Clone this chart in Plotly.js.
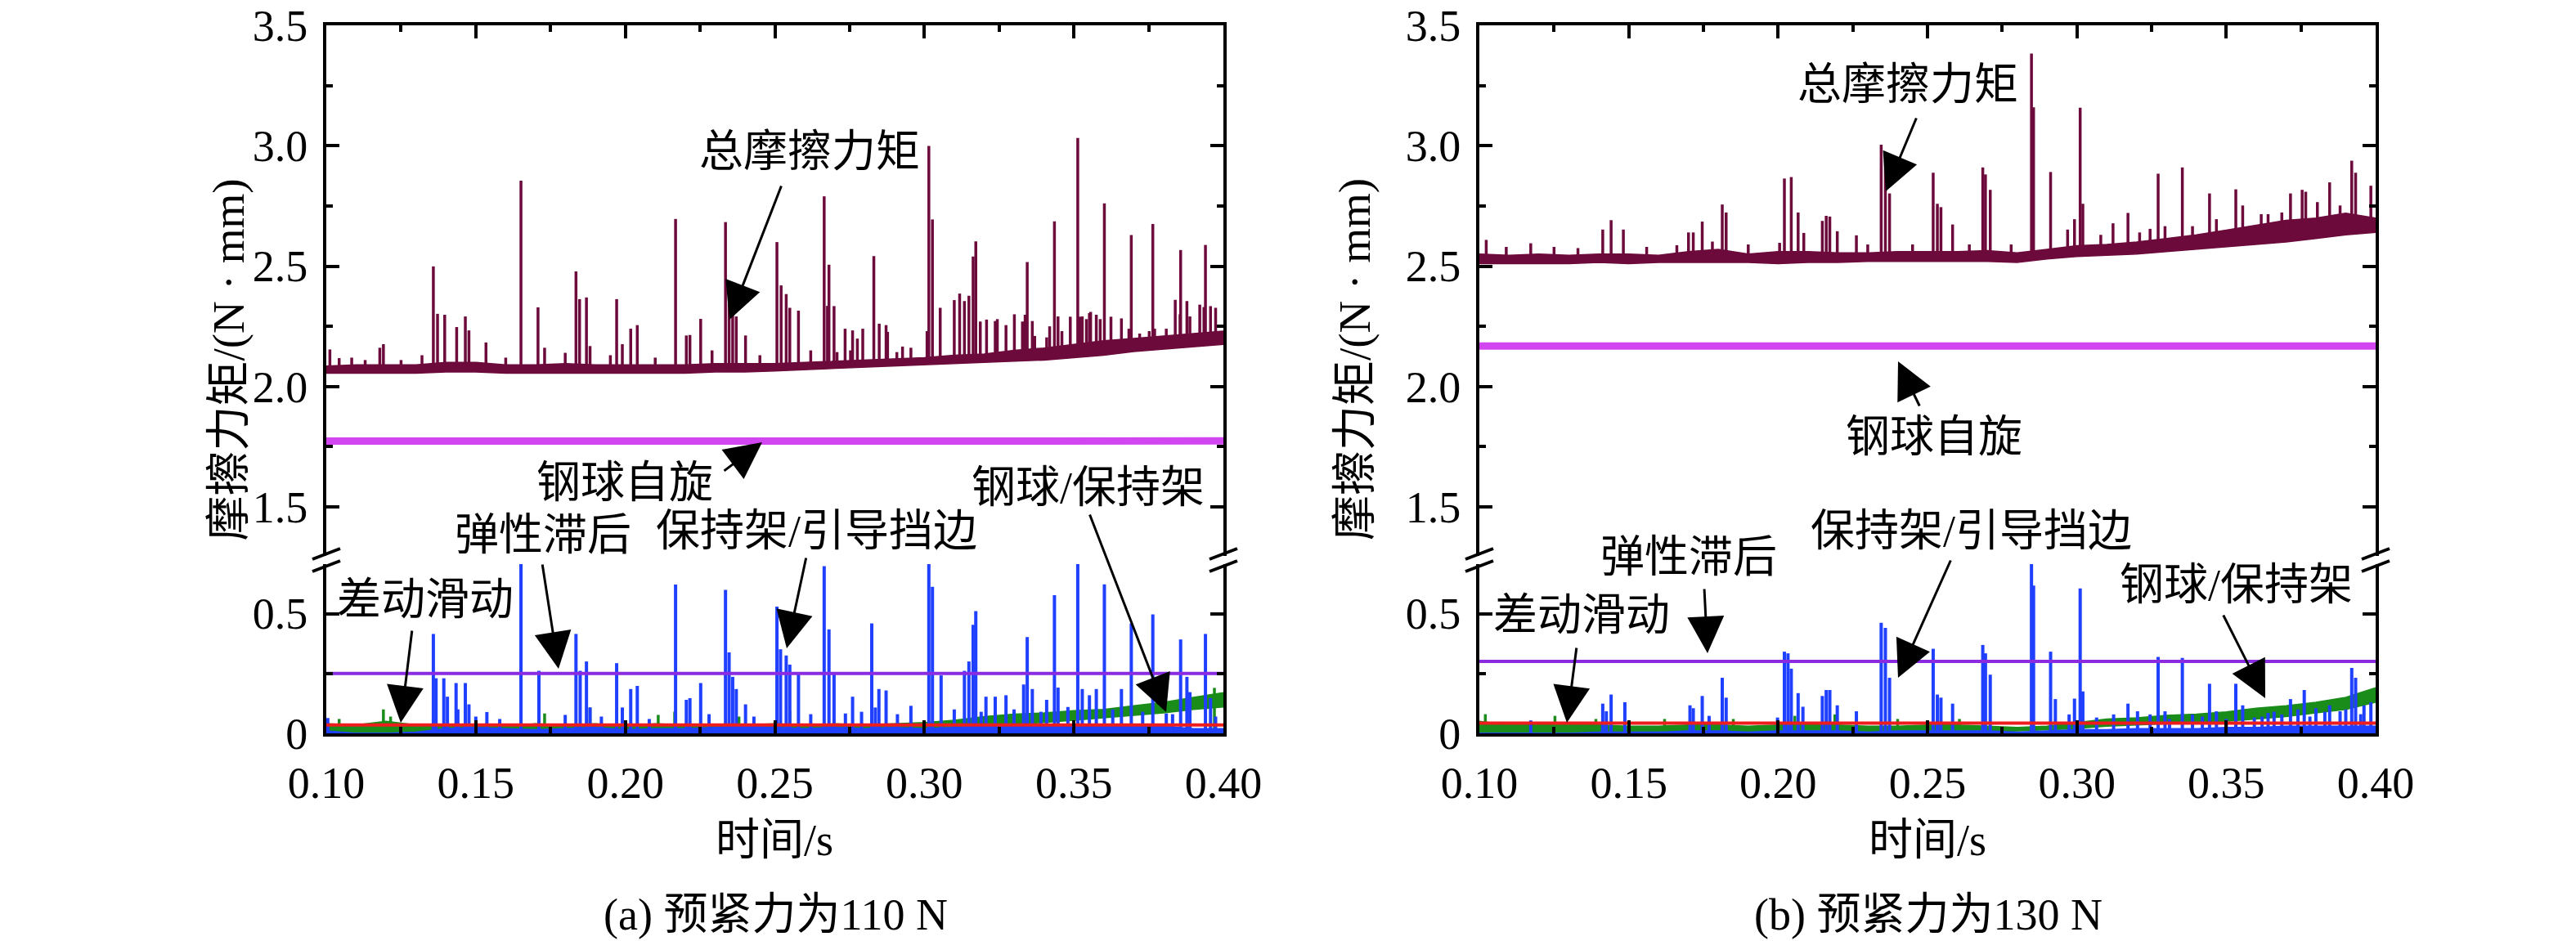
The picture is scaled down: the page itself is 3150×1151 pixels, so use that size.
<!DOCTYPE html>
<html>
<head>
<meta charset="utf-8">
<script src="https://cdn.plot.ly/plotly-3.0.1.min.js"></script>
<style>
  html, body { margin: 0; padding: 0; background: #fff; }
  #chart { width: 3150px; height: 1151px; }
</style>
</head>
<body>
<div id="chart"></div>
<script>
// shared time grid (s) for the noise envelopes
var t_grid = [0.10,0.11,0.12,0.13,0.14,0.15,0.16,0.17,0.18,0.19,0.20,0.21,0.22,0.23,0.24,0.25,
              0.26,0.27,0.28,0.29,0.30,0.31,0.32,0.33,0.34,0.35,0.36,0.37,0.38,0.39,0.40];
var t_ends = [0.10, 0.20, 0.30, 0.40];

// ---- (a) preload 110 N ----
var a_total_lo = [2.055,2.055,2.055,2.055,2.06,2.06,2.055,2.055,2.055,2.055,2.055,2.055,2.055,2.06,2.06,2.065,
                  2.07,2.073,2.078,2.085,2.09,2.095,2.10,2.105,2.11,2.12,2.13,2.145,2.155,2.165,2.175];
var a_total_hi = [2.085,2.09,2.09,2.09,2.10,2.10,2.09,2.09,2.095,2.09,2.09,2.09,2.09,2.095,2.095,2.095,
                  2.10,2.105,2.11,2.115,2.12,2.13,2.135,2.15,2.16,2.175,2.19,2.20,2.21,2.22,2.23];
var a_total_spikes = [[0.1012,2.154],[0.1043,2.118],[0.1085,2.12],[0.1130,2.110],[0.1179,2.161],[0.1191,2.176],
  [0.1250,2.11],[0.1320,2.13],[0.1358,2.499],[0.1372,2.302],[0.1396,2.298],[0.1436,2.247],[0.1465,2.291],
  [0.1477,2.233],[0.1534,2.183],[0.1600,2.12],[0.1651,2.855],[0.1708,2.329],[0.1730,2.161],[0.1799,2.140],
  [0.1835,2.478],[0.1847,2.363],[0.1870,2.370],[0.1882,2.168],[0.1950,2.13],[0.1971,2.363],[0.1990,2.176],
  [0.2018,2.240],[0.2040,2.255],[0.2100,2.12],[0.2168,2.696],[0.2204,2.212],[0.2216,2.214],[0.2252,2.281],
  [0.2290,2.15],[0.2335,2.683],[0.2347,2.413],[0.2359,2.341],[0.2371,2.291],[0.2402,2.212],[0.2450,2.13],
  [0.2507,2.600],[0.2521,2.420],[0.2538,2.384],[0.2550,2.327],[0.2579,2.315],[0.2620,2.15],[0.2665,2.790],
  [0.2676,2.335],[0.2681,2.506],[0.2698,2.334],[0.2708,2.143],[0.2735,2.240],[0.2753,2.15],[0.2760,2.233],
  [0.2776,2.199],[0.2794,2.240],[0.2831,2.542],[0.2849,2.261],[0.2872,2.255],[0.2877,2.227],[0.2908,2.143],
  [0.2927,2.166],[0.2955,2.161],[0.3009,2.23],[0.3015,2.999],[0.3027,2.694],[0.3053,2.327],[0.3100,2.359],
  [0.3118,2.386],[0.3134,2.355],[0.3149,2.377],[0.3163,2.540],[0.3172,2.603],[0.3187,2.27],[0.3208,2.278],
  [0.3237,2.272],[0.3244,2.28],[0.3273,2.255],[0.3301,2.30],[0.3328,2.27],[0.3337,2.298],[0.3344,2.517],
  [0.3361,2.272],[0.3369,2.21],[0.3409,2.204],[0.3419,2.25],[0.3435,2.686],[0.3447,2.291],[0.3460,2.23],
  [0.3488,2.29],[0.3513,3.032],[0.3520,2.29],[0.3528,2.291],[0.3542,2.28],[0.3552,2.305],[0.3556,2.31],
  [0.3575,2.298],[0.3588,2.28],[0.3602,2.761],[0.3624,2.29],[0.3659,2.283],[0.3684,2.24],[0.3692,2.629],
  [0.3720,2.22],[0.3752,2.23],[0.3764,2.675],[0.3770,2.24],[0.3809,2.240],[0.3839,2.36],[0.3855,2.30],
  [0.3857,2.567],[0.3878,2.355],[0.3888,2.291],[0.3921,2.34],[0.3935,2.33],[0.3940,2.588],[0.3957,2.334],
  [0.3974,2.327]];
var a_spin = [1.773, 1.772, 1.773, 1.774];
var a_hyst = [0.250, 0.250, 0.250, 0.250];
var a_diff = [0.035, 0.035, 0.035, 0.035];
var a_green_lo = [0,0,0,0,0,0,0,0,0,0,0,0,0,0,0,0,
                  0,0.005,0.01,0.015,0.02,0.025,0.03,0.04,0.045,0.055,0.065,0.075,0.085,0.10,0.11];
var a_green_hi = [0.04,0.035,0.05,0.035,0.03,0.035,0.03,0.04,0.035,0.04,0.03,0.04,0.035,0.035,0.035,0.04,
                  0.035,0.04,0.035,0.04,0.045,0.055,0.07,0.08,0.085,0.095,0.10,0.115,0.13,0.15,0.17];
var a_green_spikes = [[0.1043,0.06],[0.1191,0.10],[0.1215,0.07],[0.1730,0.083],[0.1882,0.108],
  [0.2110,0.077],[0.2165,0.09],[0.2380,0.07],[0.2550,0.095],[0.3970,0.19]];
var a_blue_hi = [0.01,0,0,0.005,0.02,0.025,0.02,0.015,0.02,0.025,0.015,0.02,0.02,0.025,0.03,0.025,
                 0.02,0.025,0.02,0.025,0.02,0.025,0.03,0.03,0.035,0.03,0.035,0.03,0.03,0.02,0.02];
var a_blue_spikes = [[0.1005,0.064],[0.1358,0.415],[0.1367,0.230],[0.1393,0.230],[0.1405,0.153],[0.1434,0.210],
  [0.1465,0.210],[0.1477,0.121],[0.1537,0.089],[0.1651,0.80],[0.1711,0.261],[0.1799,0.077],[0.1835,0.415],
  [0.1849,0.261],[0.1870,0.300],[0.1882,0.108],[0.1971,0.293],[0.1990,0.108],[0.2018,0.185],[0.2040,0.198],
  [0.2168,0.621],[0.2204,0.140],[0.2216,0.147],[0.2252,0.210],[0.2335,0.599],[0.2347,0.338],[0.2359,0.236],
  [0.2371,0.185],[0.2402,0.121],[0.2507,0.529],[0.2519,0.351],[0.2538,0.325],[0.2550,0.287],[0.2579,0.249],
  [0.2665,0.698],[0.2681,0.434],[0.2698,0.249],[0.2736,0.083],[0.2760,0.153],[0.2824,0.459],[0.2836,0.108],
  [0.2848,0.185],[0.2872,0.179],[0.2955,0.115],[0.3015,0.80],[0.3027,0.612],[0.3056,0.242],[0.3134,0.261],
  [0.3149,0.300],[0.3163,0.453],[0.3172,0.510],[0.3206,0.153],[0.3237,0.153],[0.3273,0.159],[0.3332,0.204],
  [0.3344,0.402],[0.3361,0.185],[0.3409,0.140],[0.3435,0.577],[0.3447,0.191],[0.3513,0.80],[0.3528,0.185],
  [0.3552,0.159],[0.3575,0.185],[0.3602,0.622],[0.3659,0.185],[0.3692,0.459],[0.3764,0.497],[0.3809,0.083],
  [0.3857,0.392],[0.3878,0.236],[0.3888,0.172],[0.3940,0.415],[0.3957,0.147],[0.3974,0.070],
  [0.1440,0.10],[0.1500,0.07],[0.1580,0.06],[0.1920,0.07],[0.2080,0.06],[0.2280,0.08],[0.2430,0.07],
  [0.2620,0.08],[0.2790,0.09],[0.2910,0.08],[0.3100,0.10],[0.3190,0.09],[0.3300,0.10],[0.3390,0.09],
  [0.3480,0.11],[0.3630,0.10],[0.3730,0.09],[0.3830,0.08]];

// ---- (b) preload 130 N ----
var b_total_lo = [2.51,2.51,2.51,2.51,2.515,2.51,2.515,2.515,2.515,2.515,2.51,2.515,2.515,2.52,2.52,2.52,
                  2.52,2.52,2.515,2.53,2.54,2.545,2.55,2.56,2.57,2.58,2.59,2.60,2.615,2.63,2.64];
var b_total_hi = [2.55,2.545,2.55,2.545,2.55,2.55,2.545,2.56,2.57,2.55,2.56,2.56,2.555,2.555,2.56,2.56,
                  2.56,2.565,2.555,2.57,2.585,2.59,2.60,2.615,2.63,2.65,2.67,2.69,2.70,2.72,2.70];
var b_total_spikes = [[0.1023,2.609],[0.1090,2.58],[0.1172,2.595],[0.1250,2.58],[0.1330,2.575],[0.1413,2.652],
  [0.1441,2.691],[0.1482,2.652],[0.1560,2.58],[0.1661,2.587],[0.1700,2.640],[0.1716,2.640],[0.1746,2.685],
  [0.1780,2.602],[0.1813,2.756],[0.1826,2.723],[0.1900,2.59],[0.2005,2.597],[0.2021,2.864],[0.2044,2.870],
  [0.2067,2.723],[0.2086,2.638],[0.2148,2.688],[0.2161,2.709],[0.2173,2.706],[0.2198,2.645],[0.2262,2.628],
  [0.2300,2.59],[0.2345,3.004],[0.2359,2.967],[0.2373,2.802],[0.2450,2.59],[0.2519,2.888],[0.2533,2.759],
  [0.2545,2.745],[0.2584,2.673],[0.2640,2.59],[0.2685,2.910],[0.2694,2.881],[0.2710,2.817],[0.2780,2.59],
  [0.2848,3.383],[0.2855,3.160],[0.2912,2.891],[0.2969,2.652],[0.2992,2.695],[0.3011,3.158],[0.3020,2.759],
  [0.3080,2.63],[0.3121,2.678],[0.3171,2.721],[0.3210,2.64],[0.3245,2.655],[0.3272,2.884],[0.3295,2.666],
  [0.3353,2.910],[0.3387,2.666],[0.3444,2.802],[0.3467,2.695],[0.3532,2.819],[0.3555,2.752],[0.3617,2.716],
  [0.3640,2.716],[0.3686,2.723],[0.3715,2.802],[0.3754,2.817],[0.3766,2.809],[0.3805,2.766],[0.3846,2.848],
  [0.3881,2.752],[0.3920,2.938],[0.3933,2.888],[0.3984,2.834]];
var b_spin = [2.168, 2.167, 2.168, 2.168];
var b_hyst = [0.300, 0.300, 0.300, 0.300];
var b_diff = [0.043, 0.043, 0.043, 0.043];
var b_green_lo = [0,0,0,0,0,0,0,0,0,0,0,0,0,0,0,0,
                  0,0.005,0.01,0.015,0.02,0.03,0.035,0.04,0.045,0.05,0.06,0.07,0.085,0.10,0.13];
var b_green_hi = [0.05,0.035,0.04,0.035,0.035,0.03,0.03,0.035,0.035,0.03,0.035,0.04,0.035,0.03,0.03,0.035,
                  0.035,0.03,0.025,0.03,0.045,0.06,0.065,0.075,0.08,0.09,0.105,0.115,0.13,0.15,0.19];
var b_green_spikes = [[0.1020,0.08],[0.1253,0.073],[0.1390,0.06],[0.1620,0.06],[0.1850,0.06],[0.2056,0.073],
  [0.2190,0.079],[0.2400,0.06],[0.2607,0.06]];
var b_blue_hi = [0,0,0,0,0.005,0.005,0.005,0.01,0.01,0.005,0.01,0.01,0.01,0.005,0.01,0.01,
                 0.01,0.01,0.005,0.01,0.015,0.015,0.02,0.02,0.02,0.025,0.025,0.03,0.03,0.03,0.03];
var b_blue_spikes = [[0.1172,0.054],[0.1413,0.124],[0.1425,0.092],[0.1441,0.162],[0.1487,0.130],[0.1705,0.117],
  [0.1716,0.105],[0.1746,0.156],[0.1769,0.073],[0.1813,0.232],[0.1826,0.149],[0.1998,0.066],[0.2021,0.341],
  [0.2033,0.334],[0.2044,0.270],[0.2067,0.168],[0.2083,0.111],[0.2148,0.156],[0.2161,0.181],[0.2173,0.181],
  [0.2198,0.117],[0.2262,0.092],[0.2345,0.462],[0.2359,0.440],[0.2373,0.232],[0.2519,0.353],[0.2533,0.162],
  [0.2545,0.149],[0.2584,0.124],[0.2685,0.369],[0.2694,0.334],[0.2710,0.245],[0.2848,0.80],[0.2855,0.617],
  [0.2912,0.341],[0.2928,0.143],[0.2974,0.079],[0.2992,0.145],[0.3011,0.605],[0.3020,0.175],[0.3066,0.066],
  [0.3123,0.079],[0.3171,0.124],[0.3203,0.092],[0.3245,0.079],[0.3272,0.319],[0.3295,0.092],[0.3310,0.06],
  [0.3353,0.315],[0.3387,0.079],[0.3420,0.07],[0.3444,0.207],[0.3467,0.092],[0.3500,0.06],[0.3532,0.207],
  [0.3555,0.117],[0.3594,0.066],[0.3620,0.07],[0.3640,0.085],[0.3660,0.09],[0.3686,0.079],[0.3715,0.143],
  [0.3740,0.10],[0.3761,0.181],[0.3780,0.07],[0.3800,0.105],[0.3830,0.09],[0.3846,0.117],[0.3881,0.092],
  [0.3900,0.10],[0.3920,0.273],[0.3933,0.232],[0.3950,0.08],[0.3961,0.117],[0.3984,0.130]];

var TICK_FONT = 'Liberation Serif, Times New Roman, serif';
var TEXT_FONT = 'Liberation Serif, Noto Sans CJK SC, serif';
var C_TOTAL = '#6d0a3c', C_SPIN = '#d246f2', C_HYST = '#8a2be2',
    C_DIFF = '#ee1c1c', C_GREEN = '#1a8c1a', C_BLUE = '#2040ff';

function band(lo, hi, color, xa, ya) {
  return [
    {x: t_grid, y: lo, xaxis: xa, yaxis: ya, mode: 'lines', line: {color: color, width: 1.5}, hoverinfo: 'skip'},
    {x: t_grid, y: hi, xaxis: xa, yaxis: ya, mode: 'lines', line: {color: color, width: 1.5},
     fill: 'tonexty', fillcolor: color, hoverinfo: 'skip'}
  ];
}

// vertical spikes, foot sits inside the noise band (nearest grid sample)
function spikes(pairs, lo, hi, color, width, xa, ya) {
  var xs = [], ys = [];
  pairs.forEach(function (p) {
    var foot = 0;
    if (lo) {
      var i = Math.round((p[0] - t_grid[0]) / 0.01);
      foot = (lo[i] + hi[i]) / 2;
    }
    xs.push(p[0], p[0], null);
    ys.push(foot, p[1], null);
  });
  return {x: xs, y: ys, xaxis: xa, yaxis: ya, mode: 'lines', line: {color: color, width: width}, hoverinfo: 'skip'};
}

function flat(vals, color, width, xa, ya) {
  return {x: t_ends, y: vals, xaxis: xa, yaxis: ya, mode: 'lines', line: {color: color, width: width}, hoverinfo: 'skip'};
}

function panel(p, xl, yl, xu, yu) {
  var zero = t_grid.map(function () { return 0; });
  var tr = [];
  tr = tr.concat(band(p.tlo, p.thi, C_TOTAL, xu, yu));
  tr.push(spikes(p.tsp, p.tlo, p.thi, C_TOTAL, 3.5, xu, yu));
  tr.push(flat(p.spin, C_SPIN, 9, xu, yu));
  tr = tr.concat(band(p.glo, p.ghi, C_GREEN, xl, yl));
  tr.push(spikes(p.gsp, null, null, C_GREEN, 3.5, xl, yl));
  tr = tr.concat(band(zero, p.bhi, C_BLUE, xl, yl));
  tr.push(spikes(p.bsp, null, null, C_BLUE, 4, xl, yl));
  tr.push(flat(p.diff, C_DIFF, 4, xl, yl));
  tr.push(flat(p.hyst, C_HYST, 4, xl, yl));
  return tr;
}

var data = [].concat(
  panel({tlo: a_total_lo, thi: a_total_hi, tsp: a_total_spikes, spin: a_spin, glo: a_green_lo, ghi: a_green_hi,
         gsp: a_green_spikes, bhi: a_blue_hi, bsp: a_blue_spikes, diff: a_diff, hyst: a_hyst}, 'x', 'y', 'x2', 'y2'),
  panel({tlo: b_total_lo, thi: b_total_hi, tsp: b_total_spikes, spin: b_spin, glo: b_green_lo, ghi: b_green_hi,
         gsp: b_green_spikes, bhi: b_blue_hi, bsp: b_blue_spikes, diff: b_diff, hyst: b_hyst}, 'x3', 'y3', 'x4', 'y4')
);

// page geometry (px) -> paper fractions; whole figure nudged down a little so "3.5" fits
var W = 3150, H = 1151, DY = 4;
function px(x) { return x / W; }
function py(y) { return 1 - (y + DY) / H; }

var A_DOM = [px(399), px(1496)], B_DOM = [px(1809), px(2905)];
var UP_DOM = [py(676), py(27)], LOW_DOM = [py(893), py(686)];

function xax(dom, anchor, top, match) {
  var o = {domain: dom, anchor: anchor, range: [0.1, 0.4], tick0: 0.1, dtick: 0.05, tickformat: '.2f',
    showline: true, linewidth: 4, linecolor: '#000', ticks: 'inside', ticklen: 16, tickwidth: 4, tickcolor: '#000',
    minor: {ticks: 'inside', dtick: 0.025, tick0: 0.1, ticklen: 8, tickwidth: 4, tickcolor: '#000', showgrid: false},
    showgrid: false, zeroline: false, ticklabelstandoff: 10, ticklabeloverflow: 'allow',
    tickfont: {family: TICK_FONT, size: 54, color: '#000'}};
  if (top) { o.side = 'top'; o.showticklabels = false; o.matches = match; }
  return o;
}
function yax(dom, anchor, upper) {
  var o = {domain: dom, anchor: anchor, showline: true, linewidth: 4, linecolor: '#000', mirror: 'ticks',
    ticks: 'inside', ticklen: 16, tickwidth: 4, tickcolor: '#000', showgrid: false, zeroline: false,
    tickfont: {family: TICK_FONT, size: 54, color: '#000'}, ticklabelstandoff: 8, ticklabeloverflow: 'allow',
    minor: {ticks: 'inside', dtick: 0.25, ticklen: 8, tickwidth: 4, tickcolor: '#000', showgrid: false}};
  if (upper) { o.range = [1.2963, 3.5002]; o.tick0 = 1.5; o.dtick = 0.5; o.tickformat = '.1f'; o.minor.tick0 = 1.5; }
  else { o.range = [0, 0.7065]; o.tick0 = 0; o.dtick = 0.5; o.minor.tick0 = 0; }
  return o;
}

// axis break marks
var shapes = [];
[399, 1496, 1809, 2905].forEach(function (X) {
  [680, 695].forEach(function (Y) {
    shapes.push({type: 'line', xref: 'paper', yref: 'paper', x0: px(X - 17), y0: py(Y), x1: px(X + 17), y1: py(Y - 13),
                 line: {color: '#000', width: 4}});
  });
});

var annotations = [];
function label(text, x, y, size) {
  annotations.push({text: text, xref: 'paper', yref: 'paper', x: px(x), y: py(y), xanchor: 'center', yanchor: 'middle',
                    showarrow: false, font: {family: TEXT_FONT, size: size || 54, color: '#000'}});
}
function arrow(tailX, tailY, tipX, tipY) {
  annotations.push({text: '', xref: 'paper', yref: 'paper', x: px(tipX), y: py(tipY), axref: 'pixel', ayref: 'pixel',
                    ax: tailX - tipX, ay: tailY - tipY, showarrow: true, arrowhead: 2, arrowsize: 3,
                    arrowwidth: 3, arrowcolor: '#000'});
}

// panel (a) labels
label('总摩擦力矩', 990, 182);
arrow(956, 222, 892, 387);
label('钢球自旋', 764, 587);
arrow(884, 573, 932, 537);
label('钢球/保持架', 1330, 593);
arrow(1332, 624, 1426, 867);
label('弹性滞后', 664, 651);
arrow(663, 685, 683, 814);
label('保持架/引导挡边', 999, 646);
arrow(986, 677, 962, 789);
label('差动滑动', 520, 730);
arrow(504, 766, 490, 880);

// panel (b) labels
label('总摩擦力矩', 2333, 100);
arrow(2344, 139, 2306, 230);
label('钢球自旋', 2365, 531);
arrow(2348, 494, 2321, 438);
label('弹性滞后', 2065, 678);
arrow(2084, 715, 2088, 795);
label('保持架/引导挡边', 2410, 646);
arrow(2386, 680, 2321, 825);
label('钢球/保持架', 2734, 712);
arrow(2718, 747, 2770, 850);
label('差动滑动', 1934, 749);
arrow(1928, 787, 1916, 880);

// axis titles and captions
[246, 1656].forEach(function (x) {
  annotations.push({text: '摩擦力矩/(N · mm)', xref: 'paper', yref: 'paper', x: px(x), y: py(436), textangle: -90,
                    showarrow: false, font: {family: TEXT_FONT, size: 55, color: '#000'}});
});
label('时间/s', 947, 1024);
label('时间/s', 2357, 1024);
label('(a) 预紧力为110 N', 948, 1115);
label('(b) 预紧力为130 N', 2358, 1115);

var layout = {
  width: W, height: H,
  font: {family: TICK_FONT, size: 54, color: '#000'},
  margin: {l: 0, r: 0, t: 0, b: 0, pad: 0},
  paper_bgcolor: '#fff', plot_bgcolor: 'rgba(0,0,0,0)',
  showlegend: false,
  xaxis: xax(A_DOM, 'y', false), xaxis2: xax(A_DOM, 'y2', true, 'x'),
  yaxis: yax(LOW_DOM, 'x', false), yaxis2: yax(UP_DOM, 'x2', true),
  xaxis3: xax(B_DOM, 'y3', false), xaxis4: xax(B_DOM, 'y4', true, 'x3'),
  yaxis3: yax(LOW_DOM, 'x3', false), yaxis4: yax(UP_DOM, 'x4', true),
  shapes: shapes,
  annotations: annotations
};

Plotly.newPlot('chart', data, layout, {displayModeBar: false, staticPlot: true});
</script>
</body>
</html>
